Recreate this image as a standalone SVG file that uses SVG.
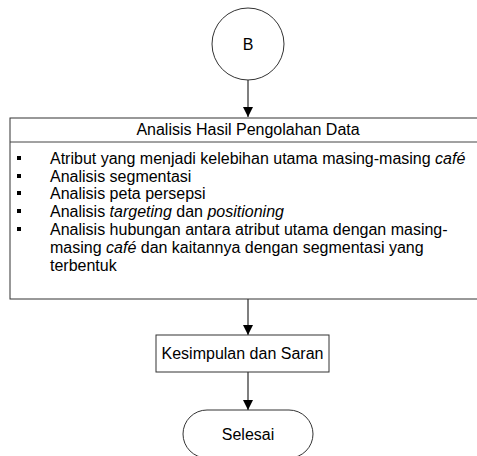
<svg xmlns="http://www.w3.org/2000/svg" width="477" height="456" viewBox="0 0 477 456">
<defs>
<marker id="arr" viewBox="0 0 10 10" refX="10" refY="5" markerWidth="10" markerHeight="10" markerUnits="userSpaceOnUse" orient="auto"><path d="M0,0 L10,5 L0,10 z" fill="#000"/></marker>
</defs>
<style>
text{font-family:"Liberation Sans",Arial,sans-serif;font-size:16px;fill:#000}
.c{text-anchor:middle}
.shape{fill:#fff;stroke:#333;stroke-width:1}
.conn{stroke:#555;stroke-width:1.5;fill:none;marker-end:url(#arr)}
.bul{fill:#000}
</style>
<rect width="477" height="456" fill="#fff"/>
<g id="connectors">
<line class="conn" x1="248" y1="80" x2="248" y2="117"/>
<line class="conn" x1="248" y1="299" x2="248" y2="335"/>
<line class="conn" x1="248" y1="372" x2="248" y2="410"/>
</g>
<g id="nodeB">
<circle class="shape" cx="248" cy="44" r="36"/>
<text class="c" x="248" y="50">B</text>
</g>
<g id="nodeAnalisis">
<rect class="shape" x="10" y="118" width="472" height="181" stroke="#444"/>
<line x1="10" y1="142" x2="477" y2="142" stroke="#444"/>
<text class="c" x="248" y="135">Analisis Hasil Pengolahan Data</text>
<rect class="bul" x="17" y="156" width="4" height="4"/>
<rect class="bul" x="17" y="174" width="4" height="4"/>
<rect class="bul" x="17" y="191" width="4" height="4"/>
<rect class="bul" x="17" y="209" width="4" height="4"/>
<rect class="bul" x="17" y="227" width="4" height="4"/>
<text x="50" y="164">Atribut yang menjadi kelebihan utama masing-masing <tspan font-style="italic">café</tspan></text>
<text x="50" y="182">Analisis segmentasi</text>
<text x="50" y="199">Analisis peta persepsi</text>
<text x="50" y="217">Analisis <tspan font-style="italic">targeting</tspan> dan <tspan font-style="italic">positioning</tspan></text>
<text x="50" y="235">Analisis hubungan antara atribut utama dengan masing-</text>
<text x="50" y="253">masing <tspan font-style="italic">café</tspan> dan kaitannya dengan segmentasi yang</text>
<text x="50" y="271">terbentuk</text>
</g>
<g id="nodeKesimpulan">
<rect class="shape" x="156" y="335" width="173" height="37"/>
<text class="c" x="242.5" y="359">Kesimpulan dan Saran</text>
</g>
<g id="nodeSelesai">
<rect class="shape" x="183" y="410" width="130" height="48" rx="24" ry="24"/>
<text class="c" x="248" y="440">Selesai</text>
</g>
</svg>
